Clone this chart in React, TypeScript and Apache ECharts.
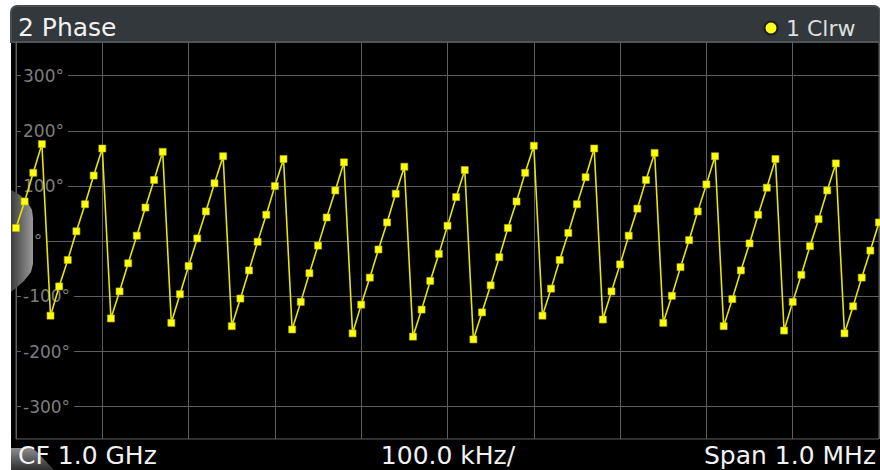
import React, { useEffect, useRef } from "react";
import * as echarts from "echarts";

// Phase trace, one value per sweep point (101 points across the span), in degrees
const phaseDeg: number[] = [
  24, 72, 124, 176, -135, -82, -34, 18, 67, 119,
  168, -140, -91, -40, 10, 61, 111, 162, -148, -96,
  -45, 5, 54, 105, 154, -154, -104, -53, -1, 48,
  100, 149, -160, -110, -58, -8, 43, 92, 143, -167,
  -115, -66, -15, 34, 86, 135, -173, -124, -72, -23,
  28, 80, 129, -178, -129, -80, -29, 24, 72, 124,
  173, -135, -86, -34, 15, 67, 116, 168, -142, -91,
  -42, 10, 59, 111, 160, -148, -99, -47, 2, 54,
  103, 154, -154, -105, -53, -4, 48, 97, 149, -162,
  -110, -61, -9, 40, 92, 141, -167, -118, -66, -17,
  34,
];

const sweepPoints: number[] = phaseDeg.map((_, i) => i);

const windowTitle = "2 Phase";
const traceLabel = "1 Clrw";
const footerLeft = "CF 1.0 GHz";
const footerCenter = "100.0 kHz/";
const footerRight = "Span 1.0 MHz";

const yMin = -300;
const yMax = 300;
const yStep = 100;

const FONT = "DejaVu Sans, Verdana, sans-serif";
const GRID_COLOR = "#5e5e5e";

export default function App() {
  const ref = useRef<HTMLDivElement>(null);

  useEffect(() => {
    if (!ref.current) return;
    const chart = echarts.init(ref.current, undefined, { renderer: "svg" });

    const tabGrad = new echarts.graphic.LinearGradient(0, 0, 1, 0, [
      { offset: 0, color: "#3c3c3c" },
      { offset: 1, color: "#9a9a9a" },
    ]);
    const tabGrad2 = new echarts.graphic.LinearGradient(0, 0, 0, 1, [
      { offset: 0, color: "#8c8c8c" },
      { offset: 1, color: "#2e2e2e" },
    ]);

    chart.setOption({
      animation: false,
      backgroundColor: "#ffffff",
      graphic: [
        {
          type: "rect",
          z: -20,
          shape: { x: 11, y: 6, width: 869, height: 464, r: [6, 6, 0, 0] },
          style: { fill: "#000000" },
          silent: true,
        },
        {
          type: "rect",
          z: -19,
          shape: { x: 11, y: 6, width: 869, height: 36, r: [6, 6, 0, 0] },
          style: { fill: "#32383b", stroke: "#474d50", lineWidth: 2 },
          silent: true,
        },
        {
          type: "polygon",
          z: 1,
          shape: {
            points: [
              [11, 190], [20, 195], [28, 203], [32, 210], [33, 218],
              [33, 264], [31, 272], [24, 281], [17, 287], [11, 292],
            ],
          },
          style: { fill: tabGrad },
          silent: true,
        },
        {
          type: "polygon",
          z: 1,
          shape: {
            points: [[11, 448], [30, 448], [36, 451], [54, 470], [11, 470]],
          },
          style: { fill: tabGrad2 },
          silent: true,
        },
        {
          type: "text",
          z: 5,
          x: 18,
          y: 27,
          style: {
            text: windowTitle,
            fill: "#f2f2f2",
            font: `25px ${FONT}`,
            verticalAlign: "middle",
            align: "left",
          },
        },
        {
          type: "circle",
          z: 5,
          shape: { cx: 771, cy: 28, r: 6.5 },
          style: { fill: "#ffff1e", stroke: "#1c2022", lineWidth: 2 },
        },
        {
          type: "text",
          z: 5,
          x: 786,
          y: 28,
          style: {
            text: traceLabel,
            fill: "#dedede",
            font: `22px ${FONT}`,
            verticalAlign: "middle",
            align: "left",
          },
        },
        {
          type: "text",
          z: 5,
          x: 18,
          y: 455,
          style: {
            text: footerLeft,
            fill: "#f2f2f2",
            font: `25px ${FONT}`,
            verticalAlign: "middle",
            align: "left",
          },
        },
        {
          type: "text",
          z: 5,
          x: 448,
          y: 455,
          style: {
            text: footerCenter,
            fill: "#f2f2f2",
            font: `25px ${FONT}`,
            verticalAlign: "middle",
            align: "center",
          },
        },
        {
          type: "text",
          z: 5,
          x: 876,
          y: 455,
          style: {
            text: footerRight,
            fill: "#f2f2f2",
            font: `25px ${FONT}`,
            verticalAlign: "middle",
            align: "right",
          },
        },
      ],
      grid: [
        {
          left: 16,
          right: 1,
          top: 42,
          bottom: 31,
          show: true,
          borderColor: GRID_COLOR,
          borderWidth: 1,
          backgroundColor: "transparent",
        },
        {
          left: 16,
          right: 1,
          top: 75.7,
          bottom: 63.3,
          show: false,
        },
      ],
      xAxis: [
        {
          gridIndex: 0,
          type: "value",
          min: 0,
          max: sweepPoints.length - 1,
          interval: 10,
          axisLine: { show: false },
          axisTick: { show: false },
          axisLabel: { show: false },
          splitLine: { show: true, lineStyle: { color: GRID_COLOR, width: 1 } },
        },
        {
          gridIndex: 1,
          type: "value",
          min: 0,
          max: sweepPoints.length - 1,
          show: false,
        },
      ],
      yAxis: [
        {
          gridIndex: 0,
          type: "value",
          min: -360,
          max: 360,
          show: false,
        },
        {
          gridIndex: 1,
          type: "value",
          min: yMin,
          max: yMax,
          interval: yStep,
          axisLine: { show: false },
          axisTick: { show: false },
          splitLine: { show: true, lineStyle: { color: GRID_COLOR, width: 1 } },
          axisLabel: {
            inside: true,
            margin: 5,
            color: "#7e7e7e",
            fontSize: 17,
            fontFamily: FONT,
            formatter: (v: number) => `${v}°`,
            backgroundColor: "#000000",
            padding: [1, 4, 1, 2],
          },
        },
      ],
      series: [
        {
          type: "line",
          xAxisIndex: 1,
          yAxisIndex: 1,
          data: phaseDeg.map((v, i) => [sweepPoints[i], v]),
          symbol: "rect",
          symbolSize: 7,
          showSymbol: true,
          clip: true,
          z: 10,
          lineStyle: { color: "#e6e600", width: 1.6 },
          itemStyle: { color: "#ffff10", borderColor: "#bdbd00", borderWidth: 0.6 },
          emphasis: { disabled: true },
        },
      ],
    });

    return () => chart.dispose();
  }, []);

  return (
    <div
      ref={ref}
      style={{ position: "absolute", left: 0, top: 0, width: 880, height: 470, background: "#fff" }}
    />
  );
}
